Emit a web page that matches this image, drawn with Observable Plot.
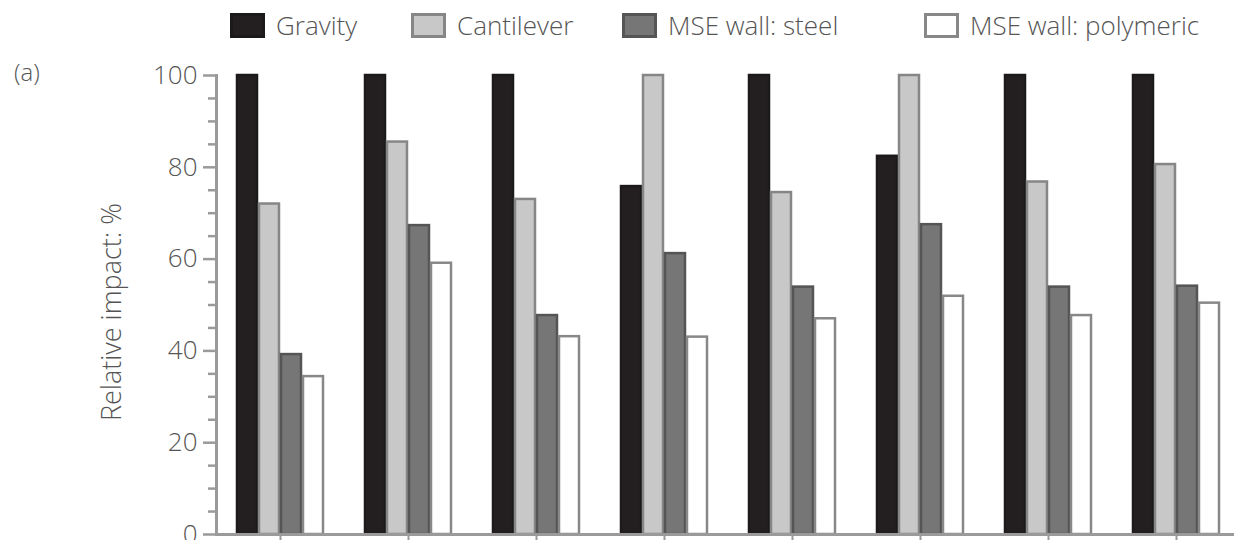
<!DOCTYPE html>
<html>
<head>
<meta charset="utf-8">
<script src="https://cdn.jsdelivr.net/npm/d3@7"></script>
<script src="https://cdn.jsdelivr.net/npm/@observablehq/plot@0.6"></script>
<style>
  html, body { margin: 0; padding: 0; background: #fff; overflow: hidden; }
  #wrap { position: relative; width: 1234px; height: 540px; font-family: "Open Sans", "DejaVu Sans", sans-serif; color: #555; font-weight: 300; }
  #legend { position: relative; width: 1234px; height: 50px; }
  .item { position: absolute; top: 10px; display: flex; align-items: center; font-size: 26px; line-height: 30px; white-space: nowrap; }
  .sw { box-sizing: border-box; width: 35px; height: 25px; border: 3px solid; margin-right: 11px; }
  #tag { position: absolute; left: 14px; top: 57px; font-size: 24px; line-height: 30px; }
  #chart { position: absolute; left: 0; top: 50px; }
</style>
</head>
<body>
<div id="wrap">
  <div id="legend"></div>
  <div id="tag">(a)</div>
  <div id="chart"></div>
</div>
<script>
// ---- data ----
const groups = ["Category 1", "Category 2", "Category 3", "Category 4", "Category 5", "Category 6", "Category 7", "Category 8"];
const series = ["Gravity", "Cantilever", "MSE wall: steel", "MSE wall: polymeric"];
const gravity    = [100, 100, 100, 75.8, 100, 82.4, 100, 100];
const cantilever = [72, 85.5, 73, 100, 74.5, 100, 76.8, 80.6];
const steel      = [39.2, 67.3, 47.7, 61.2, 53.9, 67.5, 53.9, 54.1];
const polymeric  = [34.4, 59.1, 43.1, 43, 47, 51.9, 47.7, 50.4];
const yTicks = [0, 20, 40, 60, 80, 100];
const yMinorTicks = [5, 10, 15, 25, 30, 35, 45, 50, 55, 65, 70, 75, 85, 90, 95];
const yLabel = "Relative impact: %";

// ---- styles ----
const fills   = ["#231f20", "#c8c8c8", "#767676", "#ffffff"];
const strokes = ["#1c191a", "#868686", "#555555", "#888888"];
const legendLeft = [230, 411, 622, 924];

const valuesBySeries = [gravity, cantilever, steel, polymeric];
const rows = [];
series.forEach((s, j) => groups.forEach((g, i) => rows.push({group: g, series: s, value: valuesBySeries[j][i]})));

// legend
const legend = document.getElementById("legend");
series.forEach((s, j) => {
  const it = document.createElement("div");
  it.className = "item";
  it.style.left = legendLeft[j] + "px";
  const sw = document.createElement("span");
  sw.className = "sw";
  sw.style.background = fills[j];
  sw.style.borderColor = strokes[j];
  it.appendChild(sw);
  const t = document.createElement("span");
  t.textContent = s;
  it.appendChild(t);
  legend.appendChild(it);
});

const axisColor = "#9a9a9a";

const chart = Plot.plot({
  width: 1234,
  height: 490,
  marginTop: 25,
  marginBottom: 6,
  marginLeft: 216,
  marginRight: -6,
  style: {fontFamily: "'Open Sans', sans-serif", fontSize: "26px", color: "#555", background: "transparent", overflow: "visible"},
  fx: {domain: groups, padding: 0},
  x: {domain: series, paddingInner: 0.1, paddingOuter: 0.92, axis: null},
  y: {domain: [0, 100]},
  marks: [
    ...series.map((s, j) => Plot.barY(rows.filter(d => d.series === s), {
      fx: "group", x: "series", y: "value",
      fill: fills[j], stroke: strokes[j], strokeWidth: 2.5
    })),
    Plot.ruleY([0], {stroke: axisColor, strokeWidth: 3}),
    Plot.frame({anchor: "left", facetAnchor: "left", stroke: axisColor, strokeWidth: 3}),
    Plot.axisY({ticks: yTicks, tickSize: 13, tickPadding: 6, stroke: axisColor, strokeWidth: 2.5, fill: "#555", label: null, fontWeight: 300}),
    Plot.axisY({ticks: yMinorTicks, tickSize: 8, stroke: axisColor, strokeWidth: 2.5, fill: "none", label: null}),
    Plot.axisFx({anchor: "bottom", tickSize: 8, stroke: axisColor, strokeWidth: 2, fill: "none", label: null}),
    Plot.text([yLabel], {frameAnchor: "left", textAnchor: "middle", lineAnchor: "middle", dx: -104, dy: 7, rotate: -90, facetAnchor: "left", fill: "#555", fontSize: 27, fontWeight: 300})
  ]
});
document.getElementById("chart").appendChild(chart);
</script>
</body>
</html>
